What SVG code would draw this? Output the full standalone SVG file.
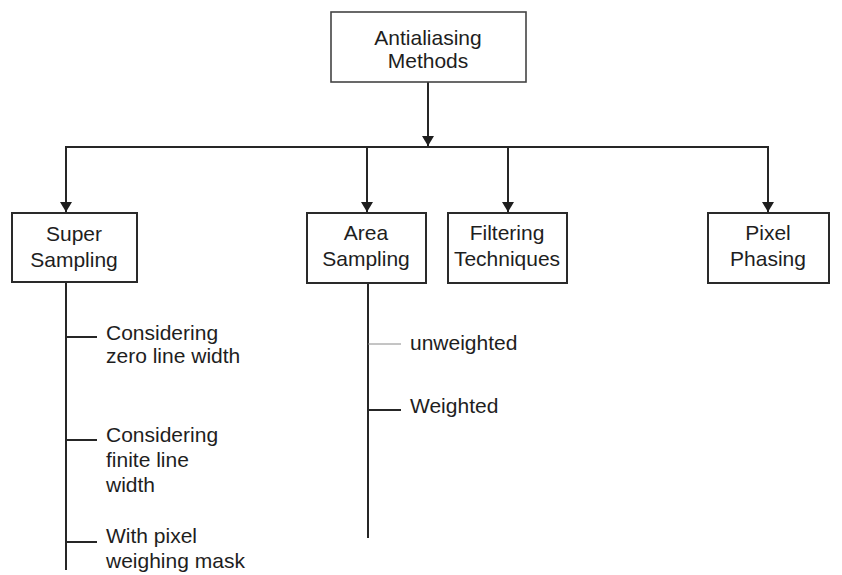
<svg xmlns="http://www.w3.org/2000/svg" width="842" height="575" viewBox="0 0 842 575">
  <style>
    .box { fill: #ffffff; stroke: #2a2a2a; stroke-width: 2; }
    .top { stroke: #444444; stroke-width: 1.6; }
    .lbl { font-family: "Liberation Sans", Arial, sans-serif; font-size: 21px; fill: #1e1e1e; }
    .mid { text-anchor: middle; }
    .wire { fill: none; stroke: #262626; stroke-width: 2; }
    .thin { fill: none; stroke: #8a8a8a; stroke-width: 1; }
  </style>
  <defs>
    <marker id="arrow" viewBox="0 0 10 12" refX="10" refY="6" markerWidth="10" markerHeight="12" markerUnits="userSpaceOnUse" orient="auto">
      <path d="M0,0 L10,6 L0,12 Z" fill="#1e1e1e"/>
    </marker>
  </defs>
  <rect width="842" height="575" fill="#ffffff"/>

  <g id="connectors">
    <line class="wire" x1="428" y1="82" x2="428" y2="146" marker-end="url(#arrow)"/>
    <line class="wire" x1="65" y1="147" x2="769" y2="147"/>
    <line class="wire" x1="66" y1="147" x2="66" y2="212" marker-end="url(#arrow)"/>
    <line class="wire" x1="367" y1="147" x2="367" y2="212" marker-end="url(#arrow)"/>
    <line class="wire" x1="508" y1="147" x2="508" y2="212" marker-end="url(#arrow)"/>
    <line class="wire" x1="768" y1="147" x2="768" y2="212" marker-end="url(#arrow)"/>
    <!-- Super Sampling branches -->
    <line class="wire" x1="66" y1="282" x2="66" y2="570"/>
    <line class="wire" x1="66" y1="337" x2="97" y2="337"/>
    <line class="wire" x1="66" y1="440" x2="97" y2="440"/>
    <line class="wire" x1="66" y1="542" x2="97" y2="542"/>
    <!-- Area Sampling branches -->
    <line class="wire" x1="368" y1="283" x2="368" y2="538"/>
    <line class="thin" x1="368" y1="344" x2="401" y2="344"/>
    <line class="wire" x1="368" y1="410" x2="401" y2="410"/>
  </g>

  <g id="antialiasing-methods">
    <rect class="box top" x="331" y="12" width="195" height="70"/>
    <text class="lbl mid" x="428" y="45">Antialiasing</text>
    <text class="lbl mid" x="428" y="68">Methods</text>
  </g>

  <g id="super-sampling">
    <rect class="box" x="12" y="213" width="125" height="69"/>
    <text class="lbl mid" x="74" y="241">Super</text>
    <text class="lbl mid" x="74" y="267">Sampling</text>
  </g>

  <g id="area-sampling">
    <rect class="box" x="307" y="213" width="119" height="70"/>
    <text class="lbl mid" x="366" y="240">Area</text>
    <text class="lbl mid" x="366" y="266">Sampling</text>
  </g>

  <g id="filtering-techniques">
    <rect class="box" x="448" y="213" width="119" height="70"/>
    <text class="lbl mid" x="507" y="240">Filtering</text>
    <text class="lbl mid" x="507" y="266">Techniques</text>
  </g>

  <g id="pixel-phasing">
    <rect class="box" x="708" y="213" width="121" height="70"/>
    <text class="lbl mid" x="768" y="240">Pixel</text>
    <text class="lbl mid" x="768" y="266">Phasing</text>
  </g>

  <g id="zero-line-width">
    <text class="lbl" x="106" y="340">Considering</text>
    <text class="lbl" x="106" y="363">zero line width</text>
  </g>

  <g id="finite-line-width">
    <text class="lbl" x="106" y="442">Considering</text>
    <text class="lbl" x="106" y="467">finite line</text>
    <text class="lbl" x="106" y="492">width</text>
  </g>

  <g id="pixel-weighing-mask">
    <text class="lbl" x="106" y="543">With pixel</text>
    <text class="lbl" x="106" y="568">weighing mask</text>
  </g>

  <g id="unweighted">
    <text class="lbl" x="410" y="350">unweighted</text>
  </g>

  <g id="weighted">
    <text class="lbl" x="410" y="413">Weighted</text>
  </g>
</svg>
